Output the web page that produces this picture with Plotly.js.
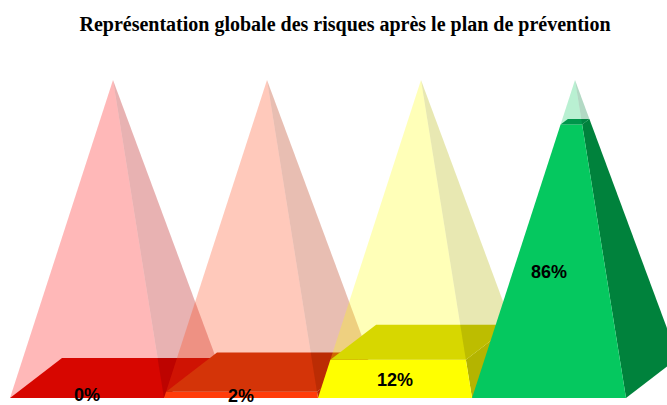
<!DOCTYPE html>
<html>
<head>
<meta charset="utf-8">
<script src="https://cdn.plot.ly/plotly-3.0.1.min.js"></script>
<style>html,body{margin:0;padding:0;background:#fff}#chart{width:667px;height:405px}</style>
</head>
<body>
<div id="chart"></div>
<script>
// Share of risks per severity level once the prevention plan is applied
const values = [0, 2, 12, 86];
const labelHeights = [0.6, 0.3, 5.2, 39.3];
const frontColors = ['#d70600', '#ff3c0a', '#ffff00', '#05c85f'];
const capColors = ['#d70600', '#d43408', '#d7d700', '#00964b'];
const sideColors = ['#b20000', '#bb2800', '#b4b400', '#00823c'];
const ghostFront = ['255,0,0', '255,60,10', '255,255,0', '5,200,95'];
const ghostSide = ['178,0,0', '178,40,0', '180,180,0', '0,130,60'];

// Oblique projection of the square base, in axis units
const depthX = 52 / 154;
const depthY = 40 / 3.18;

function corner(i, cx, cy, t) {
  const mx = 0.5 + depthX / 2, my = depthY / 2;
  return [i + mx + (cx - mx) * (1 - t), my + (cy - my) * (1 - t) + (100 - my) * t];
}
function ring(i, t) {
  return {
    fl: corner(i, 0, 0, t),
    fr: corner(i, 1, 0, t),
    br: corner(i, 1 + depthX, depthY, t),
    bl: corner(i, depthX, depthY, t)
  };
}
function poly(points, fillcolor) {
  const closed = points.concat([points[0]]);
  return {
    x: closed.map(p => p[0]), y: closed.map(p => p[1]),
    type: 'scatter', mode: 'lines', fill: 'toself', fillcolor,
    line: {width: 0}, hoverinfo: 'skip', showlegend: false
  };
}

const traces = [];
values.forEach((v, i) => {
  const t = v / 100;
  const base = ring(i, 0), cut = ring(i, t), apex = ring(i, 1).fl;
  const ghostA = 'rgba(' + ghostFront[i] + ',0.28)';
  const ghostB = 'rgba(' + ghostSide[i] + ',0.3)';
  traces.push(poly([cut.fl, cut.fr, apex], ghostA));
  traces.push(poly([base.fr, base.br, cut.br, cut.fr], sideColors[i]));
  traces.push(poly([base.fl, base.fr, cut.fr, cut.fl], frontColors[i]));
  traces.push(poly([cut.fl, cut.fr, cut.br, cut.bl], capColors[i]));
  traces.push(poly([cut.fr, cut.br, apex], ghostB));
  // Where the shaded flank passes over the top plate it reads darker
  const k = (cut.br[1] - cut.fr[1]) / (apex[1] - cut.fr[1]);
  const ridgeAtBack = [cut.fr[0] + (apex[0] - cut.fr[0]) * k, cut.br[1]];
  traces.push(poly([cut.fr, cut.br, ridgeAtBack], 'rgba(0,0,0,0.07)'));
});

traces.push({
  x: values.map((v, i) => i + 0.5),
  y: labelHeights,
  text: values.map(v => v + '%'),
  type: 'scatter', mode: 'text', textposition: 'middle center',
  textfont: {family: 'Liberation Sans', size: 18, color: '#000', weight: 'bold'},
  cliponaxis: false, hoverinfo: 'skip', showlegend: false
});

const layout = {
  width: 667, height: 405,
  margin: {l: 0, r: 0, t: 0, b: 0},
  paper_bgcolor: '#fff', plot_bgcolor: '#fff',
  title: {
    text: '<b>Représentation globale des risques après le plan de prévention</b>',
    x: 345 / 667, xanchor: 'center', y: 1 - 24 / 405, yanchor: 'middle',
    font: {family: 'Liberation Serif', size: 20, color: '#000'}
  },
  xaxis: {visible: false, range: [-10 / 154, 657 / 154], fixedrange: true},
  yaxis: {visible: false, range: [-7 / 3.18, 398 / 3.18], fixedrange: true},
  showlegend: false
};
Plotly.newPlot('chart', traces, layout, {displayModeBar: false, staticPlot: true});
</script>
</body>
</html>
